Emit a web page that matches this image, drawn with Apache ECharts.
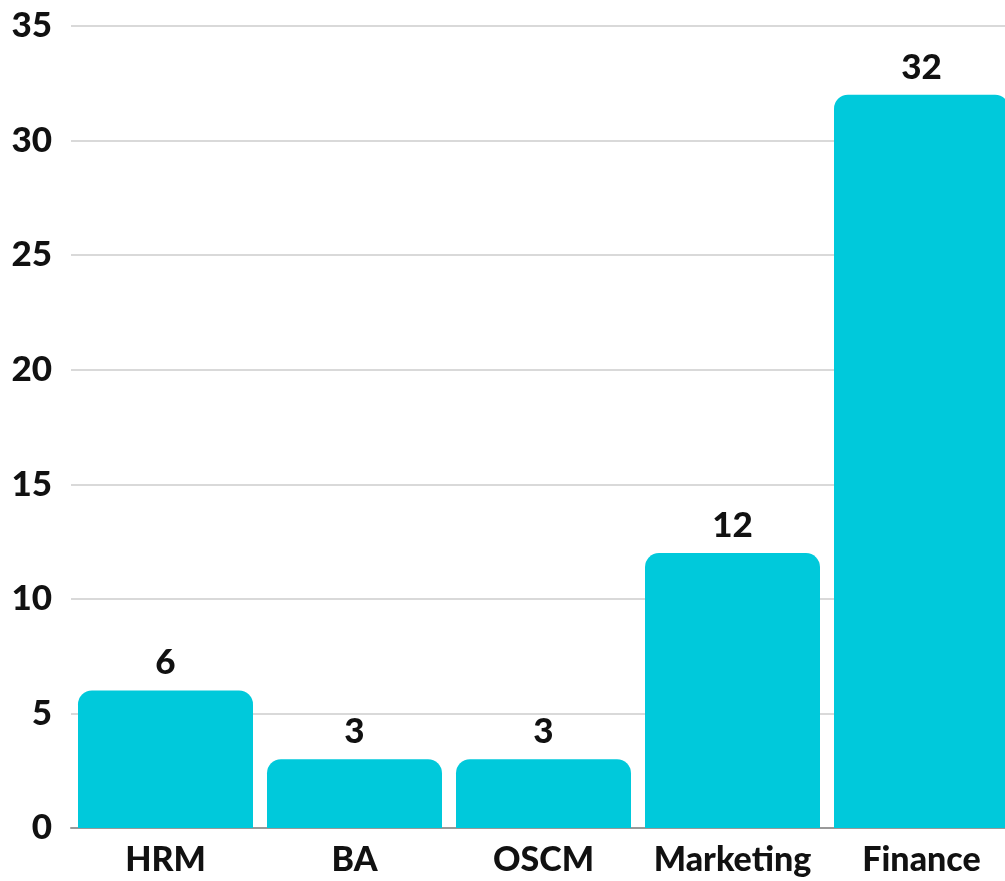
<!DOCTYPE html>
<html>
<head>
<meta charset="utf-8">
<script src="https://cdn.jsdelivr.net/npm/echarts@6/dist/echarts.min.js"></script>
<style>
  html, body { margin: 0; padding: 0; background: #fff; }
  #chart { width: 1005px; height: 881px; }
</style>
</head>
<body>
<div id="chart"></div>
<script>
// data
var categories = ['HRM', 'BA', 'OSCM', 'Marketing', 'Finance'];
var counts = [6, 3, 3, 12, 32];

var chart = echarts.init(document.getElementById('chart'));
chart.setOption({
  animation: false,
  textStyle: { fontFamily: 'Lato' },
  grid: {
    left: 71,
    right: -11,
    top: 26,
    bottom: 53,
    outerBoundsMode: 'none'
  },
  xAxis: {
    type: 'category',
    data: categories,
    axisTick: { show: false },
    axisLine: { lineStyle: { color: '#999', width: 2 } },
    axisLabel: {
      interval: 0,
      margin: 15,
      color: '#111',
      fontSize: 34,
      fontWeight: 900
    }
  },
  yAxis: {
    type: 'value',
    min: 0,
    max: 35,
    interval: 5,
    axisLine: { show: false },
    axisTick: { show: false },
    splitLine: { lineStyle: { color: '#ccc', width: 1.5 } },
    axisLabel: {
      margin: 19,
      color: '#111',
      fontSize: 35,
      fontWeight: 900
    }
  },
  series: [{
    type: 'bar',
    data: counts,
    barWidth: 175,
    itemStyle: {
      color: '#00C9DB',
      borderRadius: [14, 14, 0, 0]
    },
    label: {
      show: true,
      position: 'top',
      distance: 10,
      color: '#111',
      fontSize: 35,
      fontWeight: 900
    }
  }]
});
</script>
</body>
</html>
